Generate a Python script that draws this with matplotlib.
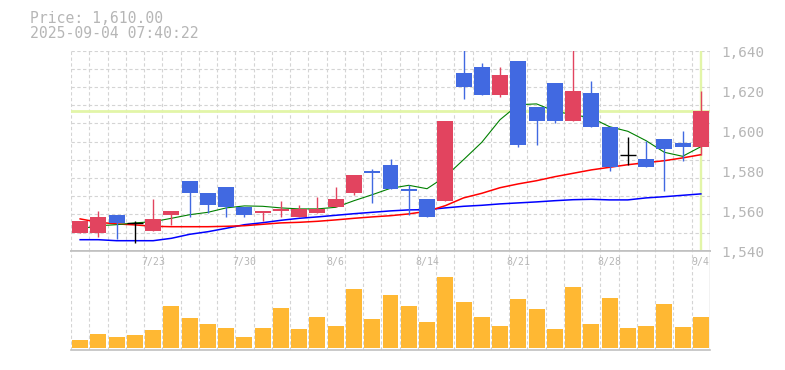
import numpy as np
import matplotlib
matplotlib.use("Agg")
import matplotlib.pyplot as plt
import matplotlib.transforms as mtransforms

# ---------------- data ----------------
dates = ["7/16", "7/17", "7/18", "7/22", "7/23", "7/24", "7/25", "7/28", "7/29", "7/30",
         "7/31", "8/1", "8/4", "8/5", "8/6", "8/7", "8/8", "8/12", "8/13", "8/14",
         "8/15", "8/18", "8/19", "8/20", "8/21", "8/22", "8/25", "8/26", "8/27", "8/28",
         "8/29", "9/1", "9/2", "9/3", "9/4"]
opens = [1549, 1549, 1558, 1554, 1550, 1558, 1575, 1569, 1572, 1562,
         1559, 1560, 1557, 1559, 1562, 1569, 1580, 1583, 1571, 1566,
         1565, 1629, 1632, 1618, 1635, 1612, 1624, 1605, 1619, 1602,
         1588, 1586, 1596, 1594, 1592]
highs = [1555, 1560, 1558, 1555, 1566, 1560, 1575, 1569, 1572, 1562,
         1560, 1565, 1563, 1567, 1572, 1578, 1581, 1586, 1573, 1566,
         1605, 1641, 1634, 1632, 1635, 1612, 1624, 1641, 1625, 1602,
         1597, 1595, 1596, 1600, 1620]
lows = [1549, 1547, 1546, 1544, 1550, 1553, 1557, 1559, 1557, 1557,
        1555, 1557, 1557, 1559, 1562, 1568, 1564, 1571, 1558, 1557,
        1565, 1616, 1618, 1617, 1592, 1593, 1604, 1605, 1602, 1580,
        1583, 1582, 1570, 1585, 1588]
closes = [1555, 1557, 1554, 1554, 1556, 1560, 1569, 1563, 1562, 1558,
          1560, 1561, 1561, 1561, 1566, 1578, 1579, 1571, 1570, 1557,
          1605, 1622, 1618, 1628, 1593, 1605, 1605, 1620, 1602, 1582,
          1588, 1582, 1591, 1592, 1610]
ma_short = [1550.9, 1552.5, 1553.0, 1553.9, 1554.5, 1556.2, 1558.0, 1559.2, 1561.4, 1562.4,
            1562.2, 1561.4, 1560.9, 1560.9, 1561.7, 1565.0, 1568.0, 1571.2, 1572.7, 1571.0,
            1577.0, 1585.5, 1594.2, 1605.5, 1613.0, 1613.4, 1609.7, 1608.0, 1606.4, 1602.0,
            1599.7, 1595.0, 1589.2, 1587.2, 1592.0]
ma_mid = [1555.9, 1554.2, 1553.4, 1552.9, 1552.2, 1552.0, 1552.0, 1552.0, 1552.2, 1552.5,
          1553.2, 1553.9, 1554.2, 1554.7, 1555.4, 1556.2, 1556.9, 1557.5, 1558.4, 1559.7,
          1562.5, 1566.4, 1568.7, 1571.5, 1573.4, 1575.0, 1577.0, 1578.7, 1580.4, 1581.7,
          1583.0, 1584.0, 1585.0, 1586.4, 1588.0]
ma_long = [1545.5, 1545.5, 1545.0, 1545.0, 1545.0, 1546.2, 1548.2, 1549.5, 1551.2, 1553.0,
           1554.0, 1555.2, 1556.2, 1556.9, 1557.7, 1558.5, 1559.2, 1559.9, 1560.4, 1560.5,
           1561.4, 1562.2, 1562.7, 1563.4, 1563.9, 1564.4, 1565.0, 1565.5, 1565.7, 1565.4,
           1565.4, 1566.4, 1567.0, 1567.7, 1568.4]
volumes = [2300, 4100, 3200, 3800, 5300, 12500, 8900, 7100, 5900, 3200,
           5900, 11900, 5600, 9200, 6500, 17600, 8600, 15800, 12500, 7700,
           21200, 13700, 9200, 6500, 14600, 11600, 5600, 18200, 7100, 14900,
           5900, 6500, 13100, 6200, 9200]
label_idx = [4, 9, 14, 19, 24, 29, 34]
price_ticks = [1540, 1560, 1580, 1600, 1620, 1640]
current_price = 1610.00
title_time = "2025-09-04 07:40:22"

# ---------------- style ----------------
UP = "#e2445f"
DOWN = "#4169e1"
VOLC = "#ffb833"
GRID = "#d4d4d4"
BORDER = "#c0c0c0"
TXT = "#b6b6b6"
HL = "#e2f5a8"
MONO = "DejaVu Sans Mono"

W, H = 785, 370
fig = plt.figure(figsize=(W / 100, H / 100), dpi=100)


def rect(l, t, r, b):
    return [l / W, 1 - b / H, (r - l) / W, (b - t) / H]


ax = fig.add_axes(rect(71, 50.7, 710, 250.7))
axv = fig.add_axes(rect(71, 250.7, 710, 350))

n = len(closes)
x = np.arange(n)
BW = 0.876

for a in (ax, axv):
    a.set_xlim(-0.5, n - 0.5)
    a.set_xticks([])
    a.set_yticks([])
    a.set_facecolor("white")
    for s in a.spines.values():
        s.set_visible(False)
    # vertical dashed grid at slot boundaries
    for b in np.arange(-0.5, n - 0.5, 1.0):
        a.axvline(b, color=GRID, lw=0.8, ls=(0, (3, 2.2)), zorder=0.5)
    a.axvline(n - 0.5, color=BORDER, lw=1.0, zorder=5)

ax.set_ylim(price_ticks[0], price_ticks[-1])
# horizontal dashed grid: 11 equal divisions of the panel
for k in range(1, 12):
    ax.plot([0, 1], [k / 11, k / 11], transform=ax.transAxes, color=GRID,
            lw=0.8, ls=(0, (3, 2.2)), zorder=0.5)
ax.plot([0, 1], [0, 0], transform=ax.transAxes, color=BORDER, lw=1.2, zorder=5,
        clip_on=False)

# current price guide lines
ax.axhline(current_price, color=HL, lw=2.0, zorder=1)
ax.axvline(n - 1, ymin=0.005, ymax=0.995, color=HL, lw=1.7, zorder=1)

# moving averages
ax.plot(x, ma_long, color="#0000ff", lw=1.1, zorder=2)
ax.plot(x, ma_mid, color="#ff0000", lw=1.1, zorder=2)
ax.plot(x, ma_short, color="#008000", lw=0.8, zorder=2)

# candles
for i in range(n):
    o, h, l, c = opens[i], highs[i], lows[i], closes[i]
    if c > o:
        col = UP
    elif c < o:
        col = DOWN
    else:
        col = "black"
    ax.vlines(x[i], l, h, color=col, lw=1.0, zorder=3)
    if c == o:
        ax.hlines(c, x[i] - BW / 2, x[i] + BW / 2, color=col, lw=1.0, zorder=3)
    else:
        ax.bar(x[i], abs(c - o), bottom=min(o, c), width=BW, color=col,
               edgecolor="none", zorder=3)

# price labels on the right
lab_tr = mtransforms.offset_copy(
    mtransforms.blended_transform_factory(ax.transAxes, ax.transData),
    fig=fig, x=0, y=-2.3, units="dots")
for v in price_ticks:
    ax.text(1.0172, v, f"{v:,}", transform=lab_tr, ha="left", va="center",
            fontsize=10.3, color=TXT, family=MONO, clip_on=False)

# volume panel
axv.set_ylim(-700, 29100)
axv.bar(x, volumes, width=BW, color=VOLC, edgecolor="none", zorder=2)
axv.plot([0, 1], [1, 1], transform=axv.transAxes, color=BORDER, lw=1.2, zorder=5,
         clip_on=False)
axv.plot([0, 1], [0, 0], transform=axv.transAxes, color=BORDER, lw=1.2, zorder=5,
         clip_on=False)
dtr = mtransforms.blended_transform_factory(axv.transData, axv.transAxes)
for i in label_idx:
    axv.text(x[i], 0.883, dates[i], transform=dtr, ha="center", va="center",
             fontsize=7.1, color=TXT, family=MONO, zorder=6)

# header texts
fig.text(30 / W, 1 - 23.3 / H, f"Price: {current_price:,.2f}", ha="left",
         va="baseline", fontsize=10.6, color=TXT, family=MONO)
fig.text(30 / W, 1 - 37.9 / H, title_time, ha="left", va="baseline",
         fontsize=10.6, color=TXT, family=MONO)

fig.savefig("out.png", dpi=100, facecolor="white")
